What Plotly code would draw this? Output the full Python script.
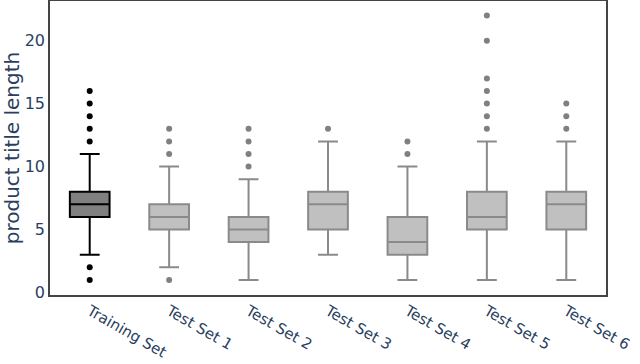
import plotly.graph_objects as go

categories = ["Training Set", "Test Set 1", "Test Set 2", "Test Set 3",
              "Test Set 4", "Test Set 5", "Test Set 6"]
q1 = [6, 5, 4, 5, 3, 5, 5]
median = [7, 6, 5, 7, 4, 6, 7]
q3 = [8, 7, 6, 8, 6, 8, 8]
lowerfence = [3, 2, 1, 3, 1, 1, 1]
upperfence = [11, 10, 9, 12, 10, 12, 12]
outliers = [
    [1, 2, 12, 13, 14, 15, 16],
    [1, 11, 12, 13],
    [10, 11, 12, 13],
    [13],
    [11, 12],
    [13, 14, 15, 16, 17, 20, 22],
    [13, 14, 15],
]
y_ticks = [0, 5, 10, 15, 20]

fig = go.Figure()
for i, cat in enumerate(categories):
    train = i == 0
    line_c = "black" if train else "#8a8a8a"
    fill_c = "#808080" if train else "#c0c0c0"
    fig.add_trace(go.Box(
        x=[cat], q1=[q1[i]], median=[median[i]], q3=[q3[i]],
        lowerfence=[lowerfence[i]], upperfence=[upperfence[i]],
        width=0.5, whiskerwidth=0.5, boxpoints=False,
        line=dict(color=line_c, width=2), fillcolor=fill_c,
        showlegend=False,
    ))
    fig.add_trace(go.Scatter(
        x=[cat] * len(outliers[i]), y=outliers[i], mode="markers",
        marker=dict(color=line_c if train else "#808080", size=6),
        showlegend=False,
    ))

fig.update_layout(
    width=640, height=364,
    margin=dict(l=50, r=34, t=1, b=69),
    paper_bgcolor="white", plot_bgcolor="white",
    font=dict(family="Verdana, DejaVu Sans, sans-serif", color="#2a3f5f"),
)
fig.update_xaxes(
    type="category", categoryorder="array", categoryarray=categories,
    range=[-0.5, 6.5], tickangle=30, tickfont=dict(size=15, family="DejaVu Sans"),
    showline=True, mirror=True, linecolor="#444", linewidth=1.5,
    showgrid=False, zeroline=False, automargin=False,
)
fig.update_yaxes(
    range=[-0.2, 23.15], tickvals=y_ticks, tickfont=dict(size=16),
    title=dict(text="product title length", font=dict(size=20), standoff=6),
    showline=True, mirror=True, linecolor="#444", linewidth=1.5,
    showgrid=False, zeroline=False, automargin=False,
)
fig.write_html("out.html", config={"displayModeBar": False},
               post_script="document.body.style.margin='0';")
